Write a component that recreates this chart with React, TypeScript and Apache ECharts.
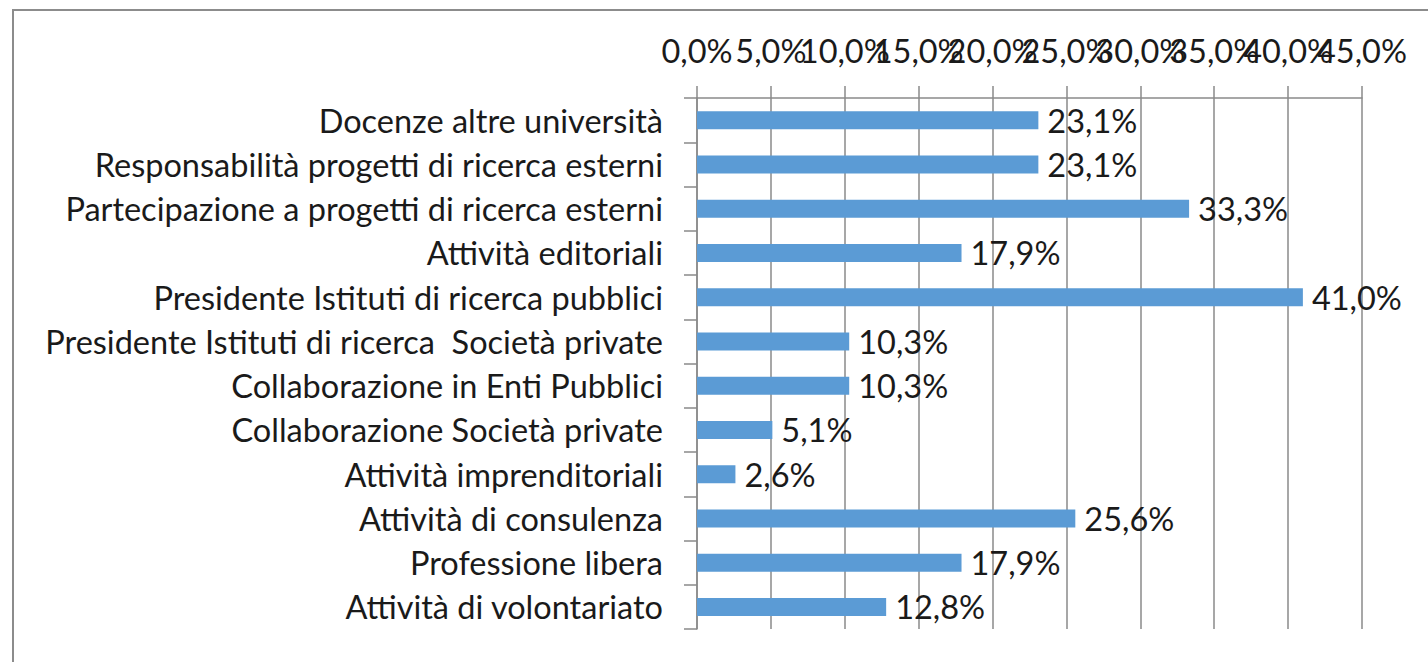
import React, { useEffect, useRef } from "react";
import * as echarts from "echarts";

const categories: string[] = [
  "Docenze altre università",
  "Responsabilità progetti di ricerca esterni",
  "Partecipazione a progetti di ricerca esterni",
  "Attività editoriali",
  "Presidente Istituti di ricerca pubblici",
  "Presidente Istituti di ricerca  Società private",
  "Collaborazione in Enti Pubblici",
  "Collaborazione Società private",
  "Attività imprenditoriali",
  "Attività di consulenza",
  "Professione libera",
  "Attività di volontariato",
];

const values: number[] = [23.1, 23.1, 33.3, 17.9, 41.0, 10.3, 10.3, 5.1, 2.6, 25.6, 17.9, 12.8];

const axisMin = 0;
const axisMax = 45;
const axisStep = 5;

const fmt = (v: number) => v.toFixed(1).replace(".", ",") + "%";

const FONT = "Lato";
const FS = 32.5;
const LINE = "#8a8a8a";
const TEXT = "#1a1a1a";

// Two label layers so that ECharts does not drop overlapping min/max labels
const isEvenStep = (v: number) => Math.round(v / axisStep) % 2 === 0;

export default function App() {
  const ref = useRef<HTMLDivElement>(null);
  useEffect(() => {
    if (!ref.current) return;
    const chart = echarts.init(ref.current, undefined, { renderer: "svg" });
    const labelBase = {
      color: TEXT,
      fontSize: FS,
      fontFamily: FONT,
      margin: 31,
      hideOverlap: false,
      showMinLabel: true,
      showMaxLabel: true,
    };
    chart.setOption({
      animation: false,
      backgroundColor: "#ffffff",
      textStyle: { fontFamily: FONT },
      graphic: [
        {
          type: "rect",
          shape: { x: 13, y: 10, width: 1500, height: 700 },
          style: { fill: "none", stroke: "#8c8c8c", lineWidth: 2 },
          silent: true,
        },
      ],
      grid: { left: 697, top: 98, width: 665, height: 531, containLabel: false },
      xAxis: [
        {
          type: "value",
          position: "top",
          min: axisMin,
          max: axisMax,
          interval: axisStep,
          axisLine: { show: true, lineStyle: { color: LINE, width: 1.5 } },
          axisTick: { show: true, length: 12, lineStyle: { color: LINE, width: 1.5 } },
          splitLine: { show: true, lineStyle: { color: LINE, width: 1.5 } },
          axisLabel: {
            ...labelBase,
            formatter: (v: number) => (isEvenStep(v) ? fmt(v) : ""),
          },
        },
        {
          type: "value",
          position: "top",
          min: axisMin,
          max: axisMax,
          interval: axisStep,
          axisLine: { show: false },
          axisTick: { show: false },
          splitLine: { show: false },
          axisLabel: {
            ...labelBase,
            formatter: (v: number) => (isEvenStep(v) ? "" : fmt(v)),
          },
        },
      ],
      yAxis: {
        type: "category",
        inverse: true,
        data: categories,
        axisLine: { show: true, lineStyle: { color: LINE, width: 1.5 } },
        axisTick: { show: true, length: 13, lineStyle: { color: LINE, width: 1.5 } },
        axisLabel: {
          color: TEXT,
          fontSize: FS,
          fontFamily: FONT,
          margin: 34,
          interval: 0,
        },
      },
      series: [
        {
          type: "bar",
          xAxisIndex: 0,
          data: values,
          barWidth: 18,
          itemStyle: { color: "#5b9bd5" },
          label: {
            show: true,
            position: "right",
            distance: 9,
            formatter: (p: any) => fmt(p.value),
            color: TEXT,
            fontSize: FS,
            fontFamily: FONT,
          },
        },
      ],
    });
    return () => chart.dispose();
  }, []);
  return (
    <div
      ref={ref}
      style={{ position: "absolute", left: 0, top: 0, width: 1428, height: 662 }}
    />
  );
}
